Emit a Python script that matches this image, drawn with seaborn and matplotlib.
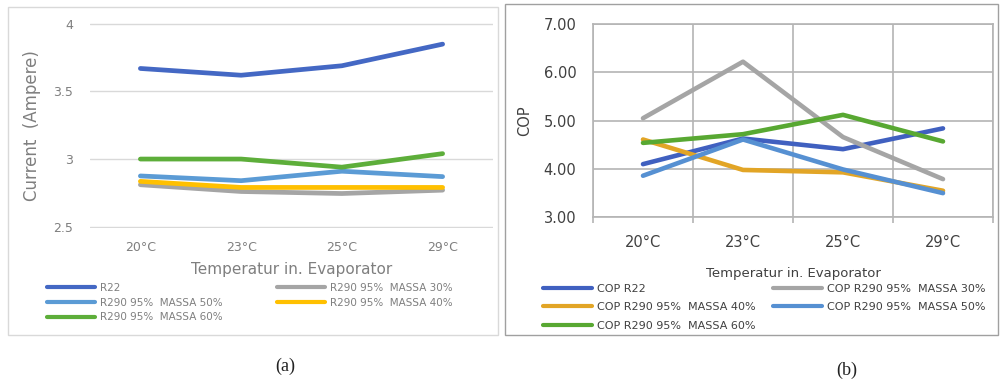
import matplotlib
matplotlib.use("Agg")
import matplotlib.pyplot as plt
import pandas as pd
import seaborn as sns
from matplotlib.patches import Rectangle


TEMPS = ["20°C", "23°C", "25°C", "29°C"]

# (a) compressor current
CURRENT_LABELS = [
    "R22",
    "R290 95%  MASSA 30%",
    "R290 95%  MASSA 50%",
    "R290 95%  MASSA 40%",
    "R290 95%  MASSA 60%",
]
current_r22 = [3.67, 3.62, 3.69, 3.85]
current_m30 = [2.81, 2.76, 2.745, 2.77]
current_m50 = [2.875, 2.84, 2.91, 2.87]
current_m40 = [2.835, 2.79, 2.79, 2.79]
current_m60 = [3.00, 3.00, 2.94, 3.04]
CURRENT_COLORS = ["#4468C4", "#A5A5A5", "#5B9BD5", "#FFC000", "#5DAE3A"]

# (b) COP
COP_LABELS = [
    "COP R22",
    "COP R290 95%  MASSA 30%",
    "COP R290 95%  MASSA 40%",
    "COP R290 95%  MASSA 50%",
    "COP R290 95%  MASSA 60%",
]
cop_r22 = [4.10, 4.63, 4.41, 4.84]
cop_m30 = [5.05, 6.22, 4.66, 3.79]
cop_m40 = [4.61, 3.98, 3.93, 3.55]
cop_m50 = [3.86, 4.61, 3.99, 3.50]
cop_m60 = [4.54, 4.72, 5.12, 4.57]
COP_COLORS = ["#4060C0", "#A5A5A5", "#E2A526", "#5690D2", "#58A832"]

W, H = 1001, 381


def long_frame(labels, series):
    rows = []
    for label, values in zip(labels, series):
        for temp, value in zip(TEMPS, values):
            rows.append({"temp": temp, "value": value, "series": label})
    return pd.DataFrame(rows)


def fx(px):
    return px / W


def fy(py):
    return 1 - py / H


def add_legend(fig, handles, labels, x, y, size, color, spacing, hlen):
    leg = fig.legend(
        handles, labels, loc="upper left", bbox_to_anchor=(fx(x), fy(y)),
        frameon=False, borderpad=0, borderaxespad=0, fontsize=size,
        handlelength=hlen, handletextpad=0.45, labelspacing=spacing,
        labelcolor=color,
    )
    for line in leg.get_lines():
        line.set_linewidth(3.0)
    return leg


sns.set_theme(style="white")
plt.rcParams["font.family"] = ["DejaVu Sans"]

fig = plt.figure(figsize=(W / 100, H / 100), dpi=100)

# panel frames
fig.patches.append(Rectangle((fx(8), fy(335)), fx(490), 328 / H,
                             transform=fig.transFigure, fill=False,
                             edgecolor="#d9d9d9", linewidth=1.0))
fig.patches.append(Rectangle((fx(505), fy(335)), fx(493), 331 / H,
                             transform=fig.transFigure, fill=False,
                             edgecolor="#a0a0a0", linewidth=1.0))

# ---- (a) current ----
ax1 = fig.add_axes([fx(90), fy(228), fx(403), 205.5 / H])
df_cur = long_frame(CURRENT_LABELS, [current_r22, current_m30, current_m50,
                                      current_m40, current_m60])
sns.lineplot(data=df_cur, x="temp", y="value", hue="series",
             hue_order=CURRENT_LABELS, palette=CURRENT_COLORS, linewidth=3.4,
             sort=False, legend=False, ax=ax1)
ax1.set_xlim(-0.5, 3.5)
ax1.set_ylim(2.49, 4.01)
ax1.set_yticks([2.5, 3.0, 3.5, 4.0])
ax1.set_yticklabels(["2.5", "3", "3.5", "4"])
ax1.yaxis.grid(True, color="#d9d9d9", linewidth=1.0)
ax1.set_axisbelow(True)
for side in ["left", "right", "top", "bottom"]:
    ax1.spines[side].set_visible(False)
ax1.tick_params(axis="both", length=0, labelsize=9, colors="#7f7f7f")
ax1.tick_params(axis="y", pad=12)
ax1.tick_params(axis="x", pad=9)
ax1.set_xlabel("Temperatur in. Evaporator", fontsize=11, color="#7f7f7f",
               labelpad=6)
ax1.set_ylabel("Current  (Ampere)", fontsize=12, color="#7f7f7f", labelpad=9)

h1 = ax1.lines
add_legend(fig, [h1[0], h1[2], h1[4]],
           [CURRENT_LABELS[0], CURRENT_LABELS[2], CURRENT_LABELS[4]],
           47, 283, 7.5, "#7f7f7f", 0.45, 4.6)
add_legend(fig, [h1[1], h1[3]],
           [CURRENT_LABELS[1], CURRENT_LABELS[3]],
           277, 283, 7.5, "#7f7f7f", 0.45, 4.6)

# ---- (b) COP ----
ax2 = fig.add_axes([fx(593), fy(217.3), fx(400), 193.3 / H])
df_cop = long_frame(COP_LABELS, [cop_r22, cop_m30, cop_m40, cop_m50, cop_m60])
sns.lineplot(data=df_cop, x="temp", y="value", hue="series",
             hue_order=COP_LABELS, palette=COP_COLORS, linewidth=3.3,
             sort=False, legend=False, ax=ax2)
ax2.set_xlim(-0.5, 3.5)
ax2.set_ylim(3.0, 7.0)
ax2.set_yticks([3, 4, 5, 6, 7])
ax2.set_yticklabels(["3.00", "4.00", "5.00", "6.00", "7.00"])
ax2.set_xticks([-0.5, 0.5, 1.5, 2.5, 3.5], minor=True)
ax2.yaxis.grid(True, color="#b4b4b4", linewidth=1.2)
ax2.xaxis.grid(True, which="minor", color="#b4b4b4", linewidth=1.2)
ax2.set_axisbelow(True)
for side in ["left", "right", "top", "bottom"]:
    ax2.spines[side].set_visible(True)
    ax2.spines[side].set_color("#b4b4b4")
    ax2.spines[side].set_linewidth(1.2)
ax2.tick_params(axis="both", which="major", length=0, labelsize=10.5,
                colors="#404040")
ax2.tick_params(axis="x", which="minor", bottom=True, length=4, width=1.2,
                color="#b4b4b4", direction="out")
ax2.tick_params(axis="y", pad=12)
ax2.tick_params(axis="x", which="major", pad=13)
ax2.set_xlabel("Temperatur in. Evaporator", fontsize=9.5, color="#404040",
               labelpad=12)
ax2.set_ylabel("COP", fontsize=10.5, color="#404040", labelpad=8)

h2 = ax2.lines
add_legend(fig, [h2[0], h2[2], h2[4]],
           [COP_LABELS[0], COP_LABELS[2], COP_LABELS[4]],
           543, 284, 8, "#404040", 0.75, 4.4)
add_legend(fig, [h2[1], h2[3]],
           [COP_LABELS[1], COP_LABELS[3]],
           773, 284, 8, "#404040", 0.75, 4.4)

# captions
fig.text(fx(285), fy(366), "(a)", ha="center", va="center", fontsize=13,
         family="Liberation Serif", color="#222222")
fig.text(fx(847), fy(370), "(b)", ha="center", va="center", fontsize=13,
         family="Liberation Serif", color="#222222")

fig.savefig("out.png", dpi=100)
plt.close(fig)
